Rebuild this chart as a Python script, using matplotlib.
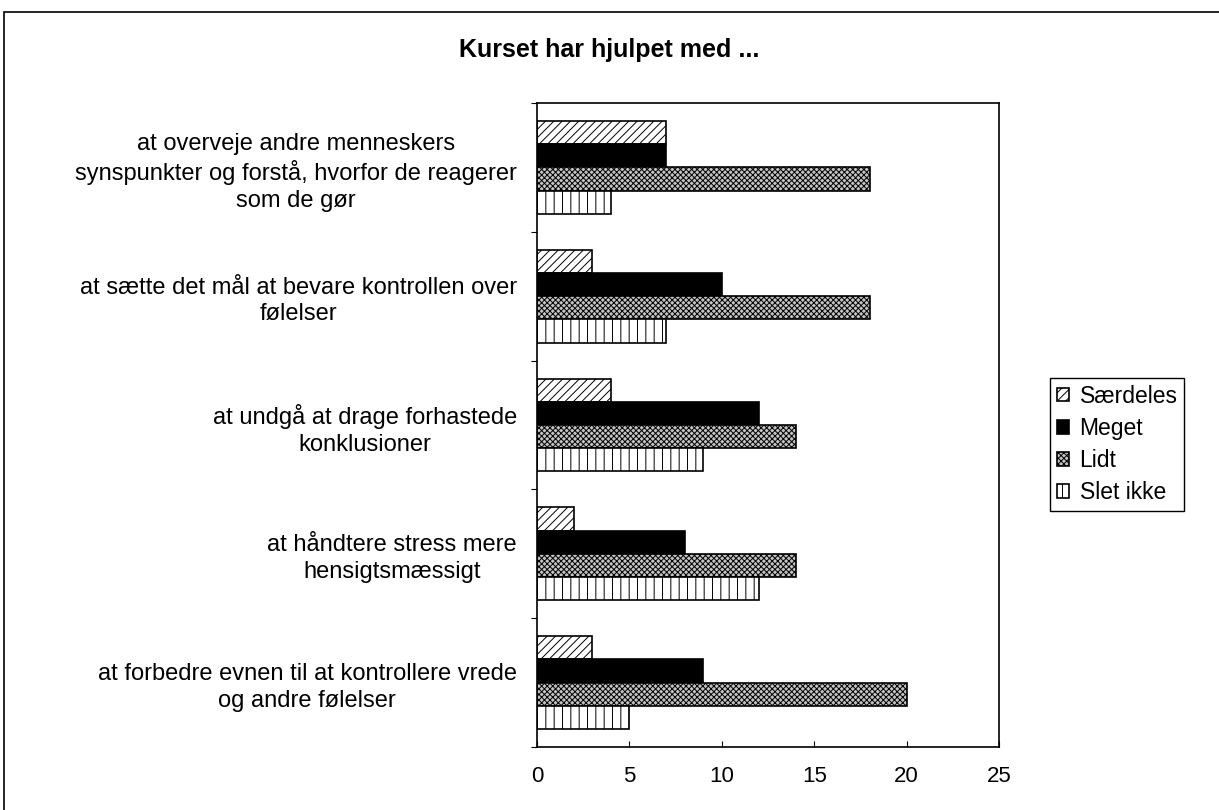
import numpy as np
import matplotlib.pyplot as plt
from matplotlib.patches import Rectangle

plt.rcParams['font.family'] = ['Liberation Sans', 'DejaVu Sans']
plt.rcParams['hatch.linewidth'] = 0.7

categories = [
    "at overveje andre menneskers\nsynspunkter og forstå, hvorfor de reagerer\nsom de gør",
    "at sætte det mål at bevare kontrollen over\nfølelser",
    "at undgå at drage forhastede\nkonklusioner",
    "at håndtere stress mere\nhensigtsmæssigt",
    "at forbedre evnen til at kontrollere vrede\nog andre følelser",
]
series = ["Særdeles", "Meget", "Lidt", "Slet ikke"]
saerdeles = [7, 3, 4, 2, 3]
meget = [7, 10, 12, 8, 9]
lidt = [18, 18, 14, 14, 20]
slet_ikke = [4, 7, 9, 12, 5]
values = [saerdeles, meget, lidt, slet_ikke]

styles = [
    dict(facecolor='white', hatch='////'),
    dict(facecolor='black', hatch=None),
    dict(facecolor='#c4c4c4', hatch='xxxxxx'),
    dict(facecolor='white', hatch='||'),
]

fig = plt.figure(figsize=(12.19, 8.10), dpi=100)
ax = fig.add_axes([537 / 1219, 1 - 747 / 810, 462 / 1219, 644 / 810])

# outer chart frame
fig.patches.append(Rectangle((4 / 1219, -0.1), 1.2, 1 - 12 / 810 + 0.1,
                             transform=fig.transFigure, fill=False,
                             edgecolor='black', linewidth=1.2))

n = len(categories)
bh = 0.18
centers = np.arange(n)
for i, (name, vals, st) in enumerate(zip(series, values, styles)):
    y = centers + (i - 1.5) * bh
    ax.barh(y, vals, height=bh, edgecolor='black', linewidth=1.2,
            label=name, **st)

ax.set_xlim(0, 25)
ax.set_ylim(n - 0.5, -0.5)
ax.set_xticks(np.arange(0, 26, 5))
ax.tick_params(axis='x', direction='in', length=4.5, pad=14, labelsize=16)

ax.set_yticks(np.arange(-0.5, n, 1))
ax.set_yticklabels([])
ax.tick_params(axis='y', which='major', direction='out', length=4.5)
ax.set_yticks(centers, minor=True)
ax.set_yticklabels(categories, minor=True, multialignment='center',
                   fontsize=17, linespacing=1.27)
ax.tick_params(axis='y', which='minor', length=0, pad=14.5)

for sp in ax.spines.values():
    sp.set_linewidth(1.2)

fig.text(0.5, 1 - 50 / 810, "Kurset har hjulpet med ...", ha='center',
         va='center', fontsize=18, fontweight='bold')

ax.legend(loc='center left', bbox_to_anchor=(1.11, 0.47), frameon=True,
          fancybox=False, edgecolor='black', fontsize=16.5, handlelength=0.55,
          handleheight=0.55, handletextpad=0.45, labelspacing=0.4,
          borderpad=0.3, borderaxespad=0, framealpha=1)

fig.savefig('out.png', dpi=100)
